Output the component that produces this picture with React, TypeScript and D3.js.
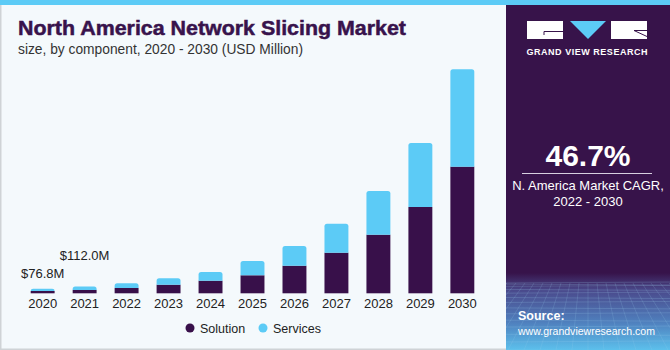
import React from 'react';
import * as d3 from 'd3';

const years = ['2020', '2021', '2022', '2023', '2024', '2025', '2026', '2027', '2028', '2029', '2030'];
const solution = [38, 55, 88, 142, 208, 297, 455, 670, 967, 1424, 2089];
const services = [38.8, 57, 77, 106, 144, 236, 325, 478, 721, 1056, 1607];
const seriesNames = ['Solution', 'Services'];
const seriesColors = ['#38104a', '#5ccbf6'];
const valueLabels = [{ i: 0, text: '$76.8M' }, { i: 1, text: '$112.0M' }];

const W = 670;
const H = 350;
const font = '"Liberation Sans", Arial, sans-serif';

// top-rounded rect path
const roundTop = (x, y, w, h, r) => {
  const rr = Math.min(r, h, w / 2);
  return `M${x},${y + h}V${y + rr}Q${x},${y} ${x + rr},${y}H${x + w - rr}Q${x + w},${y} ${x + w},${y + rr}V${y + h}Z`;
};

export default function App() {
  const x = d3.scaleBand().domain(years).range([30.7, 474.3]).paddingInner(0.43).paddingOuter(0);
  const y = d3.scaleLinear().domain([0, 3700]).range([293.3, 69]);

  const stacked = d3.stack().keys(['sol', 'svc'])(
    years.map((yr, i) => ({ year: yr, sol: solution[i], svc: services[i] }))
  );

  // faint perspective grid for the panel bottom
  const gridLines = [];
  for (let k = 0; k < 14; k++) {
    const yy = 283 + Math.pow(k / 13, 1.6) * 67;
    gridLines.push(<line key={'h' + k} x1={506} x2={670} y1={yy} y2={yy + (k % 2 ? 1 : -1)} stroke="#9fd0f0" strokeOpacity={0.25} strokeWidth={0.8} />);
  }
  for (let k = -10; k < 22; k++) {
    const xt = 588 + k * 9;
    const xb = 588 + k * 16;
    gridLines.push(<line key={'v' + k} x1={xt} x2={xb} y1={283} y2={350} stroke="#9fd0f0" strokeOpacity={0.22} strokeWidth={0.8} />);
  }

  return (
    <div style={{ position: 'fixed', left: 0, top: 0 }}>
      <svg width={W} height={H} style={{ display: 'block' }}>
        <defs>
          <linearGradient id="panelGrad" x1="0" y1="0" x2="0" y2="1">
            <stop offset="0" stopColor="#37134a" />
            <stop offset="0.78" stopColor="#37134a" />
            <stop offset="0.83" stopColor="#4a4a8c" />
            <stop offset="0.92" stopColor="#4f7fbd" />
            <stop offset="1" stopColor="#5cc0ec" />
          </linearGradient>
          <clipPath id="panelClip">
            <rect x={506} y={0} width={164} height={350} />
          </clipPath>
        </defs>

        <rect x={0} y={0} width={W} height={H} fill="#f4f9fc" />
        <rect x={0.75} y={0} width={W - 1.5} height={H - 0.75} fill="none" stroke="#cfd3d6" strokeWidth={1.5} />

        {/* right panel */}
        <rect x={506} y={0} width={164} height={350} fill="url(#panelGrad)" />
        <g clipPath="url(#panelClip)">{gridLines}</g>
        <rect x={0} y={0} width={W} height={5} fill="#5ccbf6" />

        {/* title */}
        <text x={18} y={35} fontFamily={font} fontWeight="900" fontSize={21} fill="#38134c" stroke="#38134c" strokeWidth={0.5} textLength={388} lengthAdjust="spacingAndGlyphs">
          North America Network Slicing Market
        </text>
        <text x={18} y={54} fontFamily={font} fontSize={14.5} fill="#333" textLength={285} lengthAdjust="spacingAndGlyphs">
          size, by component, 2020 - 2030 (USD Million)
        </text>

        {/* bars */}
        {stacked.map((layer, si) => (
          <g key={si}>
            {layer.map((d, i) => {
              const bx = x(years[i]);
              const y0 = y(d[0]);
              const y1 = y(d[1]);
              const h = y0 - y1;
              return si === 1 ? (
                <path key={i} d={roundTop(bx, y1, x.bandwidth(), h, 2.5)} fill={seriesColors[si]} />
              ) : (
                <rect key={i} x={bx} y={y1} width={x.bandwidth()} height={h} fill={seriesColors[si]} />
              );
            })}
          </g>
        ))}

        {/* year labels */}
        {years.map((yr) => (
          <text key={yr} x={x(yr) + x.bandwidth() / 2} y={308} textAnchor="middle" fontFamily={font} fontSize={13} fill="#222">
            {yr}
          </text>
        ))}

        {/* value labels */}
        {valueLabels.map((v) => (
          <text key={v.i} x={x(years[v.i]) + x.bandwidth() / 2} y={v.i === 0 ? 278 : 260} textAnchor="middle" fontFamily={font} fontSize={13} fill="#222">
            {v.text}
          </text>
        ))}

        {/* legend */}
        {seriesNames.map((name, i) => (
          <g key={name} transform={`translate(${i === 0 ? 190 : 263},328)`}>
            <circle r={4.5} fill={seriesColors[i]} />
            <text x={10} y={4.5} fontFamily={font} fontSize={12.5} fill="#222">{name}</text>
          </g>
        ))}

        {/* logo */}
        <rect x={527} y={21} width={36} height={18} fill="#ffffff" />
        <path d="M544,35V31.5H563" stroke="#37134a" strokeWidth={1} fill="none" />
        <path d="M570,21H606L588,39Z" fill="#5ccbf6" />
        <rect x={611} y={21} width={36} height={18} fill="#ffffff" />
        <path d="M634,30.5H647M634,30.5L647,36.5" stroke="#37134a" strokeWidth={1} fill="none" />
        <text x={587} y={55} textAnchor="middle" fontFamily={font} fontWeight="bold" fontSize={9} fill="#ffffff" textLength={121} lengthAdjust="spacing">
          GRAND VIEW RESEARCH
        </text>

        {/* CAGR */}
        <text x={588} y={166} textAnchor="middle" fontFamily={font} fontWeight="bold" fontSize={30} fill="#ffffff">46.7%</text>
        <line x1={522} x2={652} y1={173.5} y2={173.5} stroke="#d8d0e0" strokeWidth={1} />
        <text x={588} y={190} textAnchor="middle" fontFamily={font} fontSize={13} fill="#ffffff">N. America Market CAGR,</text>
        <text x={588} y={206} textAnchor="middle" fontFamily={font} fontSize={13} fill="#ffffff">2022 - 2030</text>

        {/* source */}
        <text x={518} y={320} fontFamily={font} fontWeight="bold" fontSize={12.5} fill="#ffffff">Source:</text>
        <text x={518} y={335} fontFamily={font} fontSize={11.5} fill="#ffffff" textLength={137} lengthAdjust="spacingAndGlyphs">www.grandviewresearch.com</text>
      </svg>
    </div>
  );
}
